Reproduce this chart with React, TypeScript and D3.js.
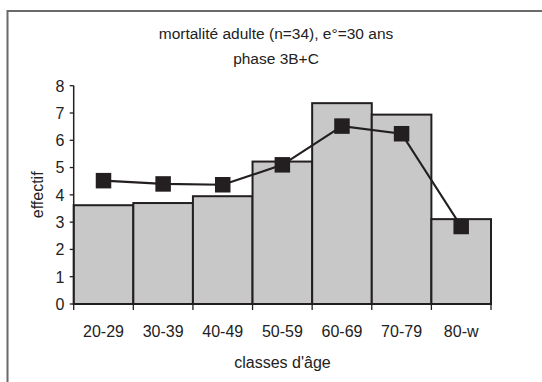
import React from "react";
import * as d3 from "d3";

const categories = ["20-29", "30-39", "40-49", "50-59", "60-69", "70-79", "80-w"];
const barValues = [3.62, 3.7, 3.95, 5.22, 7.36, 6.94, 3.11];
const lineValues = [4.52, 4.4, 4.37, 5.1, 6.52, 6.24, 2.84];
const yTicks = [0, 1, 2, 3, 4, 5, 6, 7, 8];
const titleLines = ["mortalité adulte (n=34), e°=30 ans", "phase 3B+C"];
const xTitle = "classes d'âge";
const yTitle = "effectif";

const W = 542;
const H = 382;
const plotLeft = 73.7;
const plotRight = 491;
const plotTop = 85.7;
const plotBottom = 304;
const font = "Liberation Sans, Arial, Helvetica, sans-serif";
const dark = "#231f20";

export default function App() {
  const x = d3.scaleBand<string>().domain(categories).range([plotLeft, plotRight]).padding(0);
  const y = d3.scaleLinear().domain([0, 8]).range([plotBottom, plotTop]);
  const bw = x.bandwidth();
  const lineGen = d3
    .line<number>()
    .x((_, i) => (x(categories[i]) as number) + bw / 2)
    .y((d) => y(d));
  const sq = 15.5;
  const boundaries = categories.map((c) => x(c) as number).concat([plotRight]);

  return (
    <svg
      width={W}
      height={H}
      viewBox={`0 0 ${W} ${H}`}
      style={{ position: "absolute", left: 0, top: 0, background: "#fff", overflow: "hidden" }}
    >
      <rect x={0} y={0} width={W} height={H} fill="#fff" />
      <rect x={7.5} y={11} width={545} height={390} fill="none" stroke="#6a6a6a" strokeWidth={2} />

      <g fontFamily={font} fill="#222" textAnchor="middle" fontSize={15.5}>
        <text x={276} y={38.5}>{titleLines[0]}</text>
        <text x={276} y={63.5}>{titleLines[1]}</text>
      </g>

      {barValues.map((v, i) => (
        <rect
          key={categories[i]}
          x={x(categories[i]) as number}
          y={y(v)}
          width={bw}
          height={y(0) - y(v)}
          fill="#c8c8c8"
          stroke={dark}
          strokeWidth={2}
        />
      ))}

      {/* axes */}
      <line x1={plotLeft} x2={plotLeft} y1={plotTop} y2={plotBottom} stroke={dark} strokeWidth={1.5} />
      <line x1={plotLeft} x2={plotRight} y1={plotBottom} y2={plotBottom} stroke={dark} strokeWidth={1.5} />
      {yTicks.map((t) => (
        <g key={t}>
          <line x1={plotLeft - 4} x2={plotLeft} y1={y(t)} y2={y(t)} stroke={dark} strokeWidth={1.3} />
          <text
            x={64.5}
            y={y(t) + 5.8}
            textAnchor="end"
            fontFamily={font}
            fontSize={16}
            fill="#222"
          >
            {t}
          </text>
        </g>
      ))}
      {boundaries.map((b, i) => (
        <line key={i} x1={b} x2={b} y1={plotBottom} y2={plotBottom + 6} stroke={dark} strokeWidth={1.3} />
      ))}
      {categories.map((c) => (
        <text
          key={c}
          x={(x(c) as number) + bw / 2}
          y={336.5}
          textAnchor="middle"
          fontFamily={font}
          fontSize={16}
          fill="#222"
        >
          {c}
        </text>
      ))}
      <text x={282.5} y={368} textAnchor="middle" fontFamily={font} fontSize={16} fill="#222">
        {xTitle}
      </text>
      <text
        transform={`translate(43,${(plotTop + plotBottom) / 2}) rotate(-90)`}
        textAnchor="middle"
        fontFamily={font}
        fontSize={16}
        fill="#222"
      >
        {yTitle}
      </text>

      <path d={lineGen(lineValues) || ""} fill="none" stroke={dark} strokeWidth={2.2} />
      {lineValues.map((v, i) => (
        <rect
          key={i}
          x={(x(categories[i]) as number) + bw / 2 - sq / 2}
          y={y(v) - sq / 2}
          width={sq}
          height={sq}
          fill={dark}
        />
      ))}
    </svg>
  );
}
